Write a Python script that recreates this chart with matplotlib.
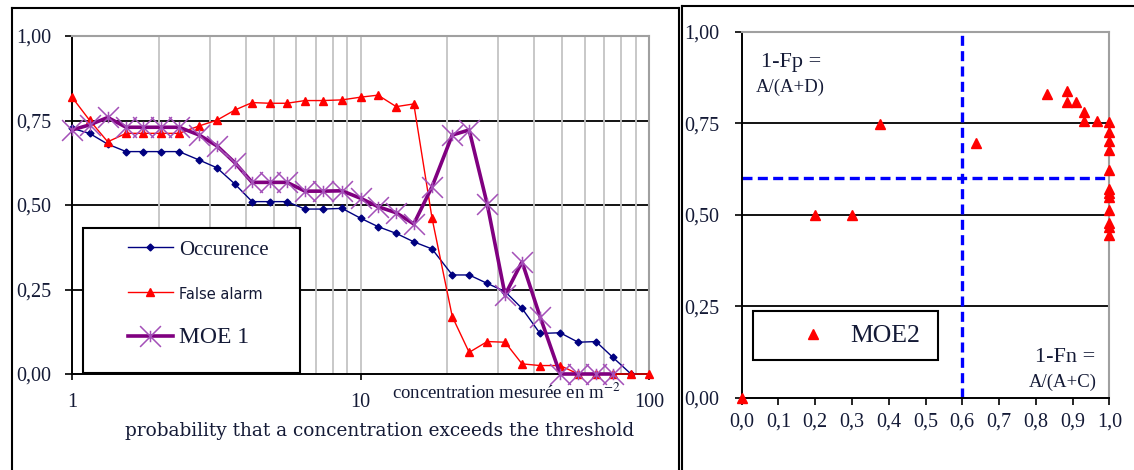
#!/usr/bin/env python3
# two panels: occurrence / false alarm / MOE 1 vs probability, and MOE2 scatter
import numpy as np
import matplotlib
matplotlib.use("Agg")
import matplotlib.pyplot as plt
from matplotlib.path import Path
from matplotlib.lines import Line2D
from matplotlib.patches import Rectangle

W, H = 1134, 470
SERIF = "Liberation Serif"
TXT = "#141a36"
plt.rcParams["mathtext.fontset"] = "stix"

# left panel data
conc = [1.00, 1.15, 1.33, 1.54, 1.76, 2.04, 2.35, 2.76, 3.18, 3.67, 4.21,
        4.86, 5.56, 6.42, 7.41, 8.63, 10.0, 11.5, 13.3, 15.3, 17.7, 20.8,
        23.8, 27.5, 31.7, 36.3, 41.9, 49.2, 56.8, 65.5, 75.0, 86.6, 100.0]
occurence = [0.727, 0.712, 0.680, 0.658, 0.658, 0.658, 0.658, 0.633, 0.610,
             0.562, 0.510, 0.510, 0.510, 0.488, 0.488, 0.490, 0.461, 0.436,
             0.416, 0.391, 0.370, 0.293, 0.293, 0.268, 0.244, 0.194, 0.120,
             0.122, 0.094, 0.096, 0.049, 0.0, np.nan]
false_alarm = [0.819, 0.751, 0.687, 0.712, 0.712, 0.712, 0.712, 0.734, 0.751,
               0.781, 0.803, 0.801, 0.801, 0.809, 0.809, 0.811, 0.819, 0.825,
               0.791, 0.799, 0.461, 0.170, 0.064, 0.096, 0.094, 0.030, 0.025,
               0.025, 0.0, 0.0, 0.0, 0.0, 0.0]
moe1 = [0.722, 0.737, 0.759, 0.730, 0.730, 0.730, 0.730, 0.707, 0.675, 0.625,
        0.567, 0.567, 0.567, 0.541, 0.541, 0.542, 0.520, 0.495, 0.477, 0.444,
        0.554, 0.707, 0.722, 0.502, 0.234, 0.332, 0.170, 0.0, 0.0, 0.0, 0.0,
        np.nan, np.nan]
left_yticks = [0.0, 0.25, 0.5, 0.75, 1.0]
left_ylabels = ["0,00", "0,25", "0,50", "0,75", "1,00"]
left_xticks = [1, 10, 100]
left_xlabels = ["1", "10", "100"]

# right panel data
moe2_x = [0.0, 0.2, 0.3, 0.375, 0.637, 0.83, 0.884, 0.884, 0.909, 0.932,
          0.932, 0.966, 1.0, 1.0, 1.0, 1.0, 1.0, 1.0, 1.0, 1.0, 1.0, 1.0,
          1.0, 1.0]
moe2_y = [0.0, 0.5, 0.5, 0.748, 0.697, 0.829, 0.838, 0.809, 0.809, 0.780,
          0.757, 0.757, 0.754, 0.725, 0.702, 0.677, 0.622, 0.569, 0.558,
          0.549, 0.513, 0.478, 0.466, 0.445]
right_xticks = [0.0, 0.1, 0.2, 0.3, 0.4, 0.5, 0.6, 0.7, 0.8, 0.9, 1.0]
right_xlabels = ["0,0", "0,1", "0,2", "0,3", "0,4", "0,5", "0,6", "0,7",
                 "0,8", "0,9", "1,0"]
threshold = 0.6


def fx(x):
    return x / W


def fy(y):
    return 1 - y / H


# Excel style star: an X with a short vertical bar
star = Path([(-1, -1), (1, 1), (-1, 1), (1, -1), (0, -0.55), (0, 0.55)],
            [Path.MOVETO, Path.LINETO, Path.MOVETO, Path.LINETO,
             Path.MOVETO, Path.LINETO])

fig = plt.figure(figsize=(W / 100, H / 100), dpi=100)

# ---------------- left panel ----------------
ax1 = fig.add_axes([fx(72), fy(374), (649 - 72) / W, (374 - 36) / H])
ax1.set_xscale("log")
ax1.set_xlim(1, 100)
ax1.set_ylim(0, 1)

ax1.plot(conc, occurence, color="#000080", lw=1.0, marker="D", ms=3.5,
         label="Occurence", zorder=3, clip_on=False)
ax1.plot(conc, false_alarm, color="#ff0000", lw=1.0, marker="^", ms=5.5,
         label="False alarm", zorder=3, clip_on=False)
ax1.plot(conc, moe1, color="#800080", lw=2.6, marker=star, ms=15,
         mec="#a450b8", mew=1.1, label="MOE 1", zorder=3, clip_on=False)

ax1.set_xticks(left_xticks)
ax1.set_xticklabels(left_xlabels)
ax1.xaxis.set_minor_locator(matplotlib.ticker.LogLocator(base=10, subs=np.arange(2, 10)))
ax1.xaxis.set_minor_formatter(matplotlib.ticker.NullFormatter())
ax1.grid(which="both", axis="x", color="#c4c4c4", lw=1.3, zorder=0)
ax1.tick_params(axis="x", which="minor", length=0)
ax1.tick_params(axis="x", which="major", direction="out", length=4.5, width=1.2,
                pad=9, labelsize=14.5, labelcolor=TXT)
ax1.set_yticks(left_yticks)
ax1.set_yticklabels(left_ylabels)
ax1.tick_params(axis="y", direction="out", length=5, width=1.2, pad=10,
                labelsize=14.5, labelcolor=TXT)
for lab in ax1.get_xticklabels() + ax1.get_yticklabels():
    lab.set_fontfamily(SERIF)
for v in [0.25, 0.5, 0.75]:
    ax1.axhline(v, color="black", lw=1.3, zorder=1)
for s in ["top", "right"]:
    ax1.spines[s].set_color("#a0a0a0")
    ax1.spines[s].set_linewidth(1.5)
for s in ["left", "bottom"]:
    ax1.spines[s].set_color("black")
    ax1.spines[s].set_linewidth(1.4)

# legend box
ax1.add_patch(Rectangle((fx(83), fy(373)), (300 - 83) / W, (373 - 228) / H,
                        transform=fig.transFigure, facecolor="white",
                        edgecolor="black", lw=1.5, zorder=4, clip_on=False))
leg1 = ax1.legend(loc="upper left", bbox_to_anchor=(fx(128), fy(240)),
                  bbox_transform=fig.transFigure, frameon=False, borderpad=0,
                  borderaxespad=0, handlelength=2.15, handletextpad=0.3,
                  labelspacing=1.2, prop={"family": SERIF, "size": 15})
leg1.set_zorder(5)
texts = leg1.get_texts()
texts[0].set_fontfamily(SERIF)
texts[0].set_fontsize(15)
texts[1].set_fontfamily("DejaVu Sans")
texts[1].set_fontsize(10.5)
texts[2].set_fontfamily(SERIF)
texts[2].set_fontsize(17)
for t in texts:
    t.set_color(TXT)

fig.text(fx(506), fy(393), r"concentration mesurée en m$^{-2}$",
         family=SERIF, fontsize=13.5, color=TXT, ha="center", va="center")
fig.text(fx(380), fy(431), "probability that a concentration exceeds the threshold",
         family="DejaVu Serif", fontsize=13.3, color=TXT, ha="center", va="center")

# ---------------- right panel ----------------
ax2 = fig.add_axes([fx(741.7), fy(397.7), 367.6 / W, 366 / H])
ax2.set_xlim(0, 1)
ax2.set_ylim(0, 1)
ax2.plot(moe2_x, moe2_y, ls="none", marker="^", ms=6.5, color="#ff0000",
         label="MOE2", zorder=3, clip_on=False)
ax2.axvline(threshold, color="#0000ff", lw=2.4, ls=(0, (3, 1.6)), zorder=2)
ax2.axhline(threshold, color="#0000ff", lw=2.4, ls=(0, (3, 1.6)), zorder=2)
for v in [0.25, 0.5, 0.75]:
    ax2.axhline(v, color="black", lw=1.3, zorder=1)

ax2.set_xticks(right_xticks)
ax2.set_xticklabels(right_xlabels)
ax2.set_yticks(left_yticks)
ax2.set_yticklabels(left_ylabels)
ax2.tick_params(axis="x", direction="out", length=5, width=1.2, pad=6,
                labelsize=14.5, labelcolor=TXT)
ax2.tick_params(axis="y", direction="out", length=5, width=1.2, pad=11,
                labelsize=14.5, labelcolor=TXT)
for lab in ax2.get_xticklabels() + ax2.get_yticklabels():
    lab.set_fontfamily(SERIF)
for s in ["top", "right"]:
    ax2.spines[s].set_color("#a0a0a0")
    ax2.spines[s].set_linewidth(1.5)
for s in ["left", "bottom"]:
    ax2.spines[s].set_color("black")
    ax2.spines[s].set_linewidth(1.4)

ax2.add_patch(Rectangle((fx(752.7), fy(360)), (938.3 - 752.7) / W, (360 - 310.7) / H,
                        transform=fig.transFigure, facecolor="white",
                        edgecolor="black", lw=1.5, zorder=4, clip_on=False))
leg2 = ax2.legend(loc="center left", bbox_to_anchor=(fx(787), fy(336)),
                  bbox_transform=fig.transFigure, frameon=False, borderpad=0,
                  borderaxespad=0, handlelength=2.0, handletextpad=0.45,
                  prop={"family": SERIF, "size": 18.5})
leg2.set_zorder(5)
for t in leg2.get_texts():
    t.set_color(TXT)

fig.text(fx(791), fy(63), "1-Fp =", family=SERIF, fontsize=16, color=TXT,
         ha="center", va="center")
fig.text(fx(790), fy(87), "A/(A+D)", family=SERIF, fontsize=13.5, color=TXT,
         ha="center", va="center")
fig.text(fx(1065), fy(358), "1-Fn =", family=SERIF, fontsize=16, color=TXT,
         ha="center", va="center")
fig.text(fx(1063), fy(382), "A/(A+C)", family=SERIF, fontsize=13.5, color=TXT,
         ha="center", va="center")

# panel frames
frame = dict(color="black", lw=1.5, transform=fig.transFigure)
fig.add_artist(Line2D([fx(12), fx(12)], [fy(8), 0], **frame))
fig.add_artist(Line2D([fx(12), fx(679)], [fy(8), fy(8)], **frame))
fig.add_artist(Line2D([fx(679), fx(679)], [fy(8), 0], **frame))
fig.add_artist(Line2D([fx(682), fx(682)], [fy(6), 0], **frame))
fig.add_artist(Line2D([fx(682), 1], [fy(6), fy(6)], **frame))

fig.savefig("out.png", dpi=100)
